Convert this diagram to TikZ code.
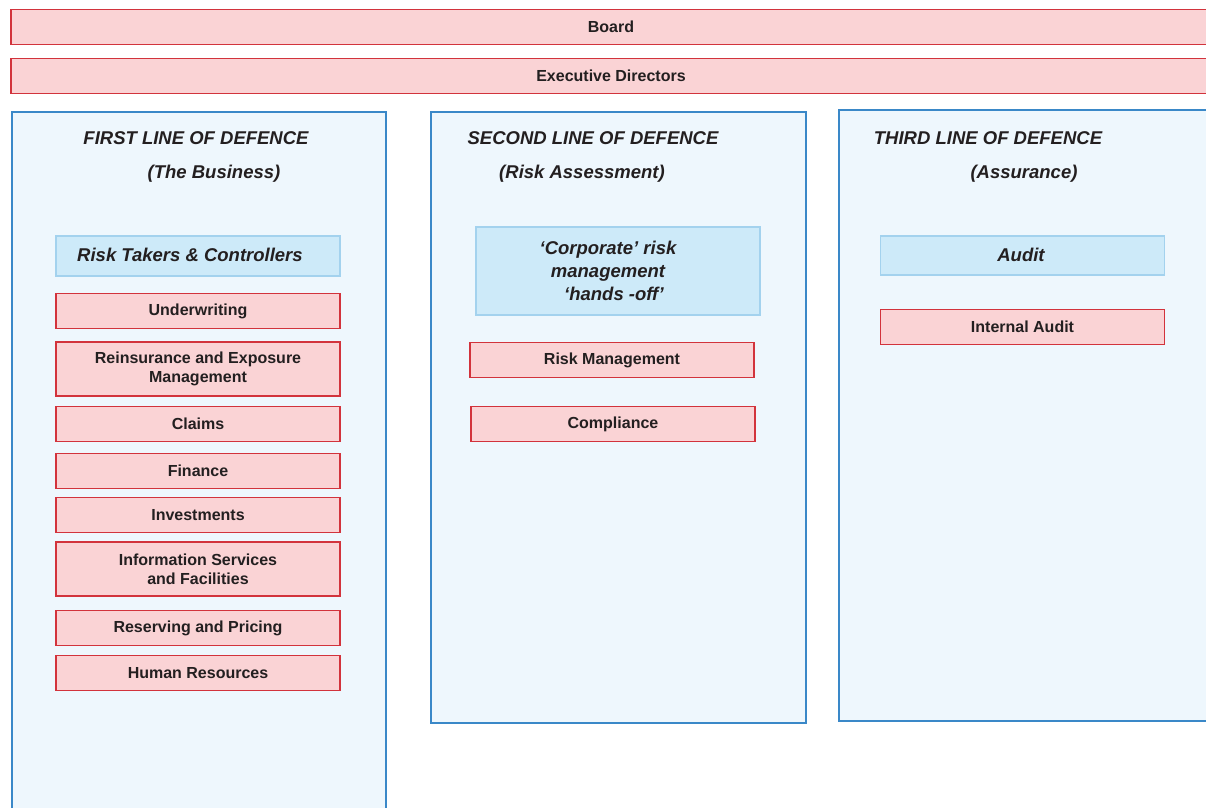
\documentclass[tikz,border=0pt]{standalone}
\usepackage{fontspec}
\setmainfont{Liberation Sans}
\usetikzlibrary{positioning}
\definecolor{redline}{HTML}{D2333C}
\definecolor{redfill}{HTML}{FAD3D5}
\definecolor{blueline}{HTML}{3A88C8}
\definecolor{bluefill}{HTML}{EEF7FD}
\definecolor{paleline}{HTML}{A3D2EE}
\definecolor{palefill}{HTML}{CDEAF9}
\definecolor{inktext}{HTML}{231F20}

\begin{document}
\begin{tikzpicture}[
    x=1pt, y=-1pt,
    every node/.style={font=\fontsize{16}{19}\selectfont\bfseries, text=inktext, align=center, inner sep=0pt},
    redbox/.style={draw=redline, fill=redfill, line width=1.5pt, minimum width=284pt, minimum height=35pt},
    widebar/.style={redbox, anchor=west, minimum width=1220pt},
    column/.style={draw=blueline, fill=bluefill, line width=1.5pt, anchor=north west},
    bluebox/.style={draw=paleline, fill=palefill, line width=1.5pt, minimum width=284pt, minimum height=40pt},
    header/.style={font=\fontsize{18.5}{23}\selectfont\bfseries\itshape}
]
\useasboundingbox (0,0) rectangle (1206,807);
\clip (0,0) rectangle (1206,807);

% top bars
\node[widebar] (board) at (10,27) {};
\node at (611,27) (boardtext) {Board};
\node[widebar] (exec) at (10,76) {};
\node at (611,76) (exectext) {Executive Directors};

% the three lines
\node[column, minimum width=374pt, minimum height=720pt] (first) at (11,111) {};
\node[column, minimum width=375pt, minimum height=611pt] (second) at (430,111) {};
\node[column, minimum width=380pt, minimum height=611pt] (third) at (838,109) {};

\node[header] (firsthead) at (196,138) {FIRST LINE OF DEFENCE};
\node[header] (firstsub) at (214,174) {(The Business)};
\node[header] (secondhead) at (593,138) {SECOND LINE OF DEFENCE};
\node[header] (secondsub) at (582,174) {(Risk Assessment)};
\node[header] (thirdhead) at (988,138) {THIRD LINE OF DEFENCE};
\node[header] (thirdsub) at (1024,174) {(Assurance)};

% first line
\node[bluebox] (takers) at (198,256) {};
\node[header] (takerstext) at (190,255) {Risk Takers \& Controllers};
\node[redbox] (underwriting) at (198,311) {Underwriting};
\node[redbox, minimum height=54pt] (reinsurance) at (198,369) {Reinsurance and Exposure\\Management};
\node[redbox] (claims) at (198,424) {Claims};
\node[redbox] (finance) at (198,471) {Finance};
\node[redbox] (investments) at (198,515) {Investments};
\node[redbox, minimum height=54pt] (infoservices) at (198,569) {Information Services\\and Facilities};
\node[redbox] (reserving) at (198,628) {Reserving and Pricing};
\node[redbox] (humanres) at (198,673) {Human Resources};

% second line
\node[bluebox, minimum height=88pt] (corporate) at (618,271) {};
\node[header] (corporatetext) at (608,271) {‘Corporate’ risk\\management\\\hspace*{12pt}‘hands -off’};
\node[redbox] (riskmgmt) at (612,360) {Risk Management};
\node[redbox] (compliance) at (613,424) {Compliance};

% third line
\node[bluebox, minimum height=39pt] (audit) at (1022.5,255.5) {};
\node[header] (audittext) at (1021,255) {Audit};
\node[redbox] (internal) at (1022.5,327) {Internal Audit};
\end{tikzpicture}
\end{document}
